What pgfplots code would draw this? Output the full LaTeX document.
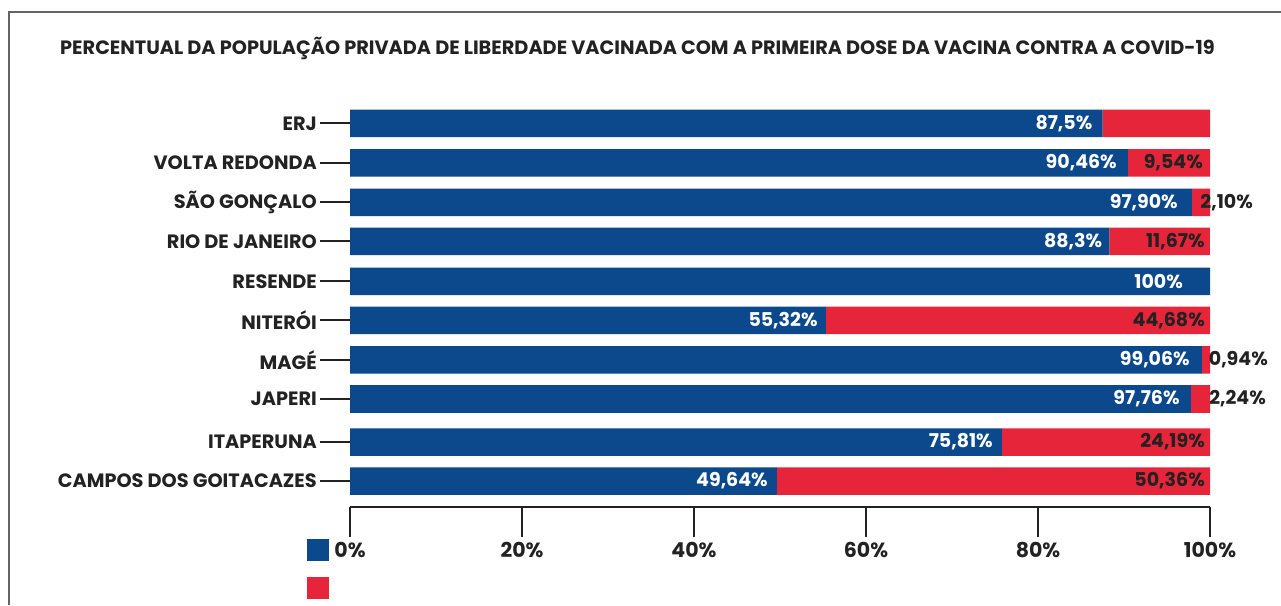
\documentclass[border=0pt]{standalone}
\usepackage{fontspec}
\setmainfont{Poppins}
\usepackage{pgfplots}
\usepackage{pgfplotstable}
\pgfplotsset{compat=1.18}
\definecolor{cblue}{RGB}{12,72,140}
\definecolor{cred}{RGB}{230,36,58}
\definecolor{ctext}{RGB}{34,34,34}
\definecolor{cframe}{RGB}{100,100,100}

% y = layout position of each category (bottom-up)
\pgfplotstableread{
y     blue   red    bl        rl        bdx  rdx
383.5 87.5   12.5   87,5\%    {}        -10  -5
344   90.46  9.54   90,46\%   9,54\%    -11  -7
304.5 97.90  2.10   97,90\%   2,10\%    -14  43
265.5 88.3   11.67  88,3\%    11,67\%   -7   -5
225.5 100    0      100\%     {}        -27  -5
186.5 55.32  44.68  55,32\%   44,68\%   -8   -5
147   99.06  0.94   99,06\%   0,94\%    -12  58
108   97.76  2.24   97,76\%   2,24\%    -11  56
65    75.81  24.19  75,81\%   24,19\%   -9   -5
26    49.64  50.36  49,64\%   50,36\%   -9   -5
}\data

\begin{document}
\begin{tikzpicture}
\useasboundingbox (0,0) rectangle (1281pt,605pt);
\draw[line width=1.6pt, cframe] (9pt,0pt) -- (9pt,593pt) -- (1281pt,593pt);
\node[anchor=base west, inner sep=0pt, text=ctext,
      font=\bfseries\fontsize{19.3}{21}\selectfont]
  at (60pt,550pt) {PERCENTUAL DA POPULAÇÃO PRIVADA DE LIBERDADE VACINADA COM A PRIMEIRA DOSE DA VACINA CONTRA A COVID-19};
\begin{axis}[
  at={(350pt,98pt)}, anchor=south west,
  scale only axis, width=860pt, height=407pt,
  xmin=0, xmax=100, ymin=0, ymax=407,
  xbar stacked, bar width=27.5pt,
  clip=false,
  axis x line*=bottom, axis y line*=left,
  y axis line style={draw=none},
  x axis line style={line width=2pt, ctext, -},
  tick align=outside,
  major tick length=30pt,
  tick style={line width=2pt, ctext},
  xtick={0,20,40,60,80,100},
  xticklabels={0\%,20\%,40\%,60\%,80\%,100\%},
  ytick={383.5,344,304.5,265.5,225.5,186.5,147,108,65,26},
  yticklabels={ERJ,VOLTA REDONDA,SÃO GONÇALO,RIO DE JANEIRO,RESENDE,NITERÓI,MAGÉ,JAPERI,ITAPERUNA,CAMPOS DOS GOITACAZES},
  xticklabel style={font=\bfseries\fontsize{20.5}{22}\selectfont, text=ctext, inner sep=0pt, yshift=-5pt},
  yticklabel style={font=\bfseries\fontsize{19.3}{21}\selectfont, text=ctext, inner sep=0pt, xshift=-3pt},
  legend style={draw=none, fill=none, at={(-0.05,-0.0786)}, anchor=north west,
    inner sep=0pt, outer sep=0pt, row sep=16pt, nodes={inner sep=0pt}},
  legend image code/.code={\fill[#1,draw=none] (0pt,-11pt) rectangle (22pt,11pt);},
  legend cell align=left,
]
\addplot[fill=cblue, draw=none,
  nodes near coords, point meta=explicit symbolic,
  visualization depends on={\thisrow{blue}*4.3 + \thisrow{bdx} \as \dx},
  every node near coord/.append style={anchor=east, xshift=\dx pt, text=white,
    font=\bfseries\fontsize{19}{20}\selectfont, inner sep=0pt}]
  table[x=blue, y=y, meta=bl]{\data};
\addlegendentry{\mbox{}}
\addplot[fill=cred, draw=none,
  nodes near coords, point meta=explicit symbolic,
  visualization depends on={\thisrow{red}*4.3 + \thisrow{rdx} \as \dx},
  every node near coord/.append style={anchor=east, xshift=\dx pt, text=ctext,
    font=\bfseries\fontsize{19}{20}\selectfont, inner sep=0pt}]
  table[x=red, y=y, meta=rl]{\data};
\addlegendentry{\mbox{}}
\end{axis}
\end{tikzpicture}
\end{document}
